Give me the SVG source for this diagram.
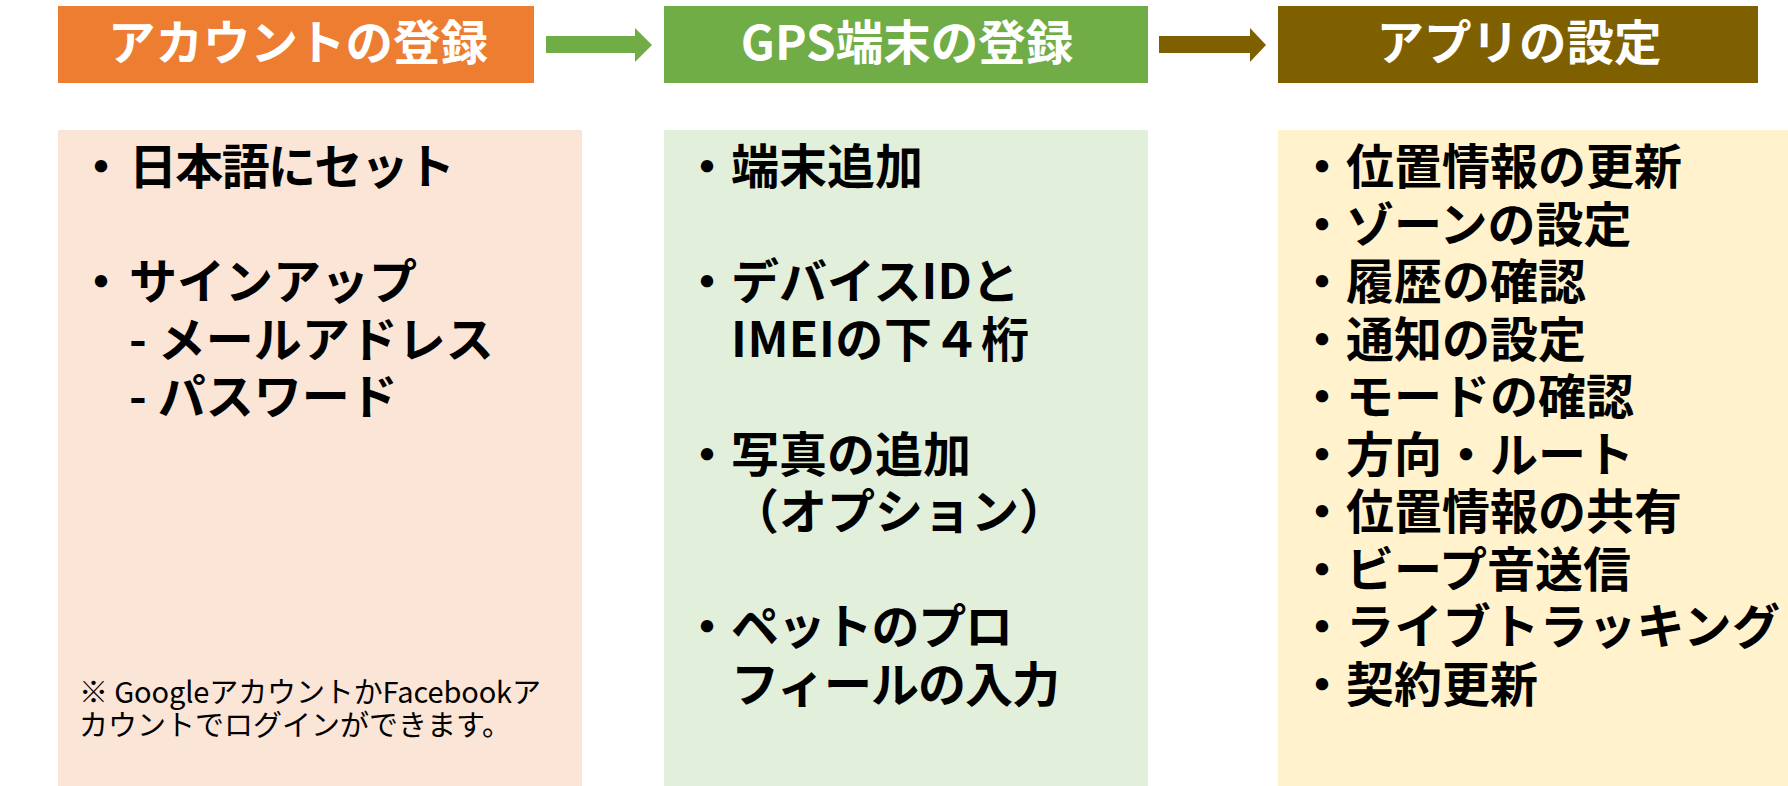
<svg xmlns="http://www.w3.org/2000/svg" width="1788" height="786" viewBox="0 0 1788 786">
<style>
text{font-family:"Noto Sans CJK JP","Noto Sans CJK SC",sans-serif}
.h{font-size:47.5px;font-weight:700;fill:#FFFFFF;text-anchor:middle}
.b{font-size:48px;font-weight:700;fill:#000000}
.n{font-size:29px;font-weight:400;fill:#000000}
</style>
<rect width="1788" height="786" fill="#FFFFFF"/>
<g id="connectors">
<polygon points="546,36 635,36 635,28 652,45 635,62 635,53 546,53" fill="#70AD47"/>
<polygon points="1159,36 1250,36 1250,28 1266,45 1250,62 1250,53 1159,53" fill="#7F6000"/>
</g>
<g id="node-account">
<rect x="58" y="6" width="476" height="77" fill="#ED7D31"/>
<text class="h" x="298" y="60">アカウントの登録</text>
</g>
<g id="node-gps">
<rect x="664" y="6" width="484" height="77" fill="#70AD47"/>
<text class="h" x="907" y="60">GPS端末の登録</text>
</g>
<g id="node-app">
<rect x="1278" y="6" width="480" height="77" fill="#7F6000"/>
<text class="h" x="1519" y="60">アプリの設定</text>
</g>
<g id="node-account-detail">
<rect x="58" y="130" width="524" height="656" fill="#FBE5D6"/>
<text class="b" y="184"><tspan x="77">・</tspan><tspan x="129" textLength="326">日本語にセット</tspan></text>
<text class="b" y="299"><tspan x="77">・</tspan><tspan x="129">サインアップ</tspan></text>
<text class="b" x="129" y="356.5">- メールアドレス</text>
<text class="b" x="129" y="414">- パスワード</text>
<text class="n" x="79" y="703" textLength="462">※ GoogleアカウントかFacebookア</text>
<text class="n" x="79" y="736">カウントでログインができます。</text>
</g>
<g id="node-gps-detail">
<rect x="664" y="130" width="484" height="656" fill="#E2EFDA"/>
<text class="b" y="184"><tspan x="683">・</tspan><tspan x="731">端末追加</tspan></text>
<text class="b" y="299"><tspan x="683">・</tspan><tspan x="731">デバイスIDと</tspan></text>
<text class="b" x="731" y="356.5" textLength="298">IMEIの下４桁</text>
<text class="b" y="471.5"><tspan x="683">・</tspan><tspan x="731">写真の追加</tspan></text>
<text class="b" x="731" y="529">（オプション）</text>
<text class="b" y="644"><tspan x="683">・</tspan><tspan x="731" textLength="282">ペットのプロ</tspan></text>
<text class="b" x="731" y="701.5" textLength="329">フィールの入力</text>
</g>
<g id="node-app-detail">
<rect x="1278" y="130" width="510" height="656" fill="#FFF2CC"/>
<text class="b" y="184"><tspan x="1298">・</tspan><tspan x="1346">位置情報の更新</tspan></text>
<text class="b" y="241.5"><tspan x="1298">・</tspan><tspan x="1346">ゾーンの設定</tspan></text>
<text class="b" y="299"><tspan x="1298">・</tspan><tspan x="1346">履歴の確認</tspan></text>
<text class="b" y="356.5"><tspan x="1298">・</tspan><tspan x="1346">通知の設定</tspan></text>
<text class="b" y="414"><tspan x="1298">・</tspan><tspan x="1346">モードの確認</tspan></text>
<text class="b" y="471.5"><tspan x="1298">・</tspan><tspan x="1346">方向・ルート</tspan></text>
<text class="b" y="529"><tspan x="1298">・</tspan><tspan x="1346">位置情報の共有</tspan></text>
<text class="b" y="586.5"><tspan x="1298">・</tspan><tspan x="1346">ビープ音送信</tspan></text>
<text class="b" y="644"><tspan x="1298">・</tspan><tspan x="1346" textLength="434">ライブトラッキング</tspan></text>
<text class="b" y="701.5"><tspan x="1298">・</tspan><tspan x="1346">契約更新</tspan></text>
</g>
</svg>
